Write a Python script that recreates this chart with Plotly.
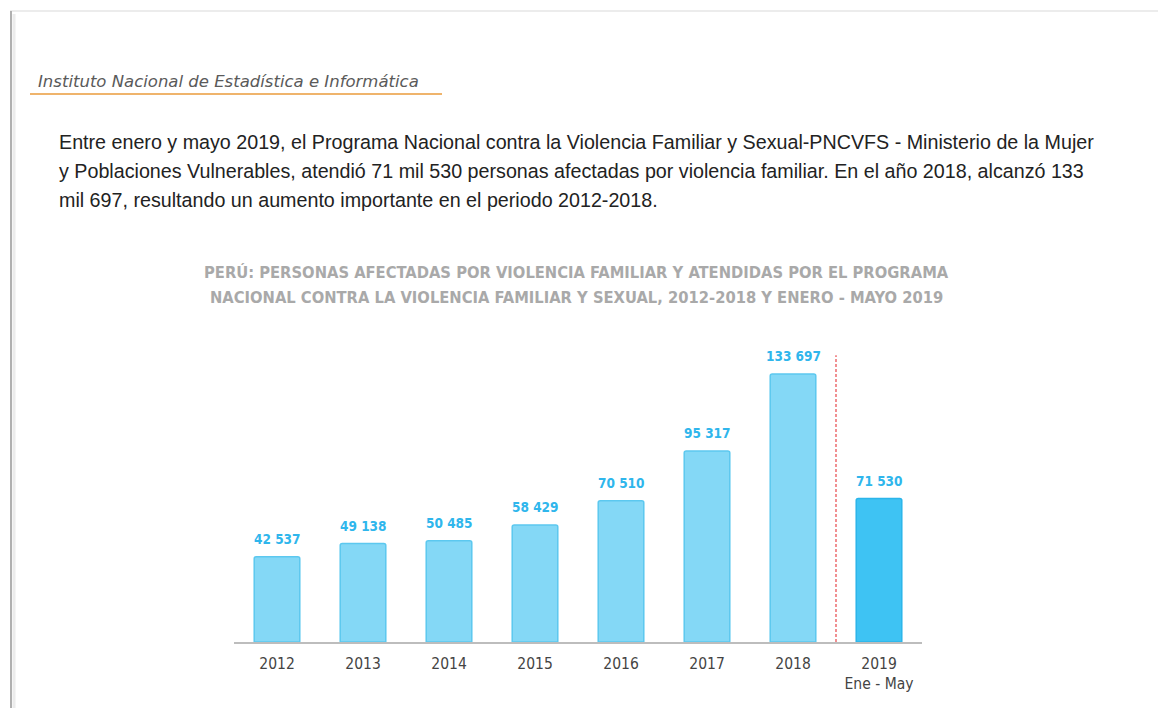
import plotly.graph_objects as go

categories = ["2012", "2013", "2014", "2015", "2016", "2017", "2018", "2019"]
tick_labels = ["2012", "2013", "2014", "2015", "2016", "2017", "2018", "2019<br>Ene - May"]
values = [42537, 49138, 50485, 58429, 70510, 95317, 133697, 71530]
value_labels = ["42 537", "49 138", "50 485", "58 429", "70 510", "95 317", "133 697", "71 530"]

OFF = 8  # page body margin
W, H = 1166 - OFF, 708 - OFF
L, R, T, B = 234 - OFF, 922 - OFF, 340 - OFF, 642 - OFF  # plot area in pixels (figure coords)


def px(x):
    return (x - OFF - L) / (R - L)


def py(y):
    return (B - (y - OFF)) / (B - T)


bar_colors = ["#84d8f6"] * 7 + ["#3ec3f3"]
line_colors = ["#5cc8ef"] * 7 + ["#2bb5ea"]

fig = go.Figure()
fig.add_trace(go.Bar(
    x=categories, y=values,
    marker=dict(color=bar_colors, line=dict(color=line_colors, width=1.5), cornerradius=2),
    width=0.53, hoverinfo="skip",
))

for i, (v, t) in enumerate(zip(values, value_labels)):
    fig.add_annotation(x=i, y=v, xref="x", yref="y", text=t, showarrow=False, yanchor="bottom", yshift=8,
                       font=dict(family="DejaVu Sans Condensed, sans-serif",
                                 size=13.5, color="#2fb6ec", weight="bold"))

# dashed separator between 2018 and 2019
fig.add_shape(type="line", xref="x", yref="y", x0=6.5, x1=6.5, y0=0, y1=143000,
              line=dict(color="#e8474a", width=1.2, dash="3px,2px"))

# page frame
fig.add_shape(type="line", xref="paper", yref="paper", x0=px(10), x1=px(1166), y0=py(11), y1=py(11),
              line=dict(color="#d9d9d9", width=1))
fig.add_shape(type="line", xref="paper", yref="paper", x0=px(11), x1=px(11), y0=py(11), y1=py(708),
              line=dict(color="#b0b0b0", width=2))
fig.add_shape(type="line", xref="paper", yref="paper", x0=px(14), x1=px(14), y0=py(14), y1=py(708),
              line=dict(color="#ececec", width=3))

# header
fig.add_annotation(xref="paper", yref="paper", x=px(36), y=py(81), text="Instituto Nacional de Estadística e Informática",
                   showarrow=False, xanchor="left", yanchor="middle",
                   font=dict(family="DejaVu Sans, sans-serif", size=16.5, color="#5a5a5a", style="italic"))
fig.add_shape(type="line", xref="paper", yref="paper", x0=px(30), x1=px(442), y0=py(94), y1=py(94),
              line=dict(color="#efb46c", width=2))

para = [
    "Entre enero y mayo 2019, el Programa Nacional contra la Violencia Familiar y Sexual-PNCVFS - Ministerio de la Mujer",
    "y Poblaciones Vulnerables, atendió 71 mil 530 personas afectadas por violencia familiar. En el año 2018, alcanzó 133",
    "mil 697, resultando un aumento importante en el periodo 2012-2018.",
]
for i, line in enumerate(para):
    fig.add_annotation(xref="paper", yref="paper", x=px(57), y=py(142 + 29 * i), text=line,
                       showarrow=False, xanchor="left", yanchor="middle",
                       font=dict(family="Liberation Sans, Arial, sans-serif", size=19.7, color="#222222"))

title = [
    "PERÚ: PERSONAS AFECTADAS POR VIOLENCIA FAMILIAR Y ATENDIDAS POR EL PROGRAMA",
    "NACIONAL CONTRA LA VIOLENCIA FAMILIAR Y SEXUAL, 2012-2018 Y ENERO - MAYO 2019",
]
for i, line in enumerate(title):
    fig.add_annotation(xref="paper", yref="paper", x=px(576), y=py(272 + 25 * i), text=line,
                       showarrow=False, xanchor="center", yanchor="middle",
                       font=dict(family="DejaVu Sans Condensed, sans-serif",
                                 size=16.4, color="#a9a9a9", weight="bold"))

fig.update_layout(
    width=W, height=H,
    margin=dict(l=L, r=W - R, t=T, b=H - B, pad=0),
    paper_bgcolor="white", plot_bgcolor="white",
    showlegend=False, bargap=0.47,
    xaxis=dict(type="category", tickmode="array", tickvals=categories, ticktext=tick_labels, range=[-0.5, 7.5],
               showline=True, linecolor="#bdbdbd", linewidth=2, ticks="", showgrid=False, ticklabelstandoff=6,
               tickfont=dict(family="DejaVu Sans Condensed, sans-serif", size=15.5, color="#444444")),
    yaxis=dict(range=[0, 150660], visible=False, showgrid=False, zeroline=False),
)

fig.write_html("out.html")
